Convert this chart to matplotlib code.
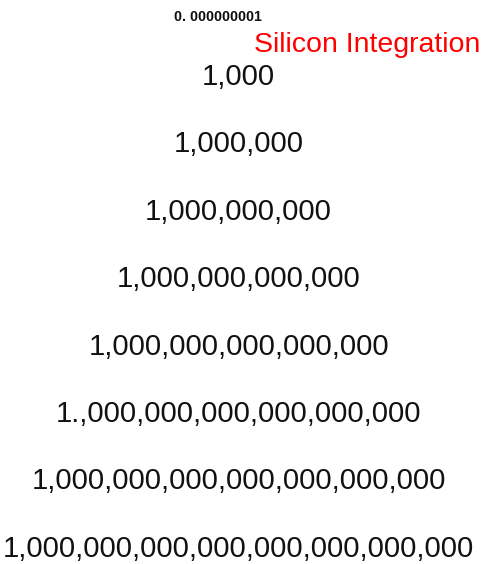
import matplotlib
matplotlib.use("Agg")
import matplotlib.pyplot as plt

plt.rcParams['font.family'] = ['Liberation Sans', 'DejaVu Sans']

# powers of ten shown on each row, and the text as printed
exponents = [3, 6, 9, 12, 15, 18, 21, 24]
labels = [
    "1,000",
    "1,000,000",
    "1,000,000,000",
    "1,000,000,000,000",
    "1,000,000,000,000,000",
    "1.,000,000,000,000,000,000",
    "1,000,000,000,000,000,000,000",
    "1,000,000,000,000,000,000,000,000",
]
title = "Silicon Integration"
small_note = "0. 000000001"

fig = plt.figure(figsize=(4.85, 5.64), dpi=100)
ax = fig.add_axes([0, 0, 1, 1])
ax.set_xlim(0, 1)
ax.set_ylim(24.32, -0.78)
ax.axis('off')

for exp, lab in zip(exponents, labels):
    ax.text(0.492, exp, lab, ha='center', va='baseline',
            fontsize=21.2, color='#111111')

fig.text(0.524, 0.908, title, ha='left', va='baseline',
         fontsize=20.5, color='#ff0000')
fig.text(0.359, 1 - 20.7 / 564, small_note, ha='left', va='baseline',
         fontsize=10.3, fontweight='bold', color='#111111')

plt.savefig("out.png", dpi=100)
